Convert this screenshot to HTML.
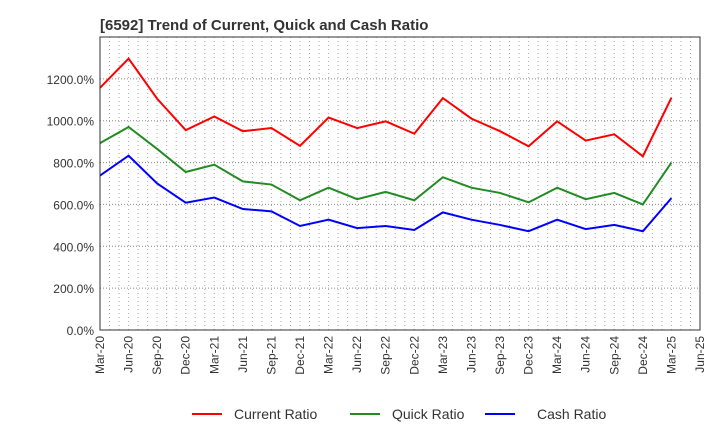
<!DOCTYPE html>
<html><head><meta charset="utf-8"><style>
body{margin:0;background:#fff;font-family:"Liberation Sans",sans-serif;}
</style></head><body>
<svg width="720" height="440" xmlns="http://www.w3.org/2000/svg" font-family="Liberation Sans, sans-serif">
<text x="100" y="30" font-size="15" font-weight="bold" fill="#333">[6592]  Trend of Current, Quick and Cash Ratio</text>
<g id="grid"></g>
<g id="series"></g>
<g id="axes"></g>
<g>
<line x1="192" y1="414" x2="222" y2="414" stroke="#ff0000" stroke-width="2"/>
<text x="234" y="419" font-size="14" fill="#333">Current Ratio</text>
<line x1="350" y1="414" x2="380" y2="414" stroke="#228b22" stroke-width="2"/>
<text x="392" y="419" font-size="14" fill="#333">Quick Ratio</text>
<line x1="485" y1="414" x2="515" y2="414" stroke="#0000ff" stroke-width="2"/>
<text x="537" y="419" font-size="14" fill="#333">Cash Ratio</text>
</g>
</svg>
<script>
const categories=["Mar-20","Jun-20","Sep-20","Dec-20","Mar-21","Jun-21","Sep-21","Dec-21","Mar-22","Jun-22","Sep-22","Dec-22","Mar-23","Jun-23","Sep-23","Dec-23","Mar-24","Jun-24","Sep-24","Dec-24","Mar-25"];
const xTickLabels=["Mar-20","Jun-20","Sep-20","Dec-20","Mar-21","Jun-21","Sep-21","Dec-21","Mar-22","Jun-22","Sep-22","Dec-22","Mar-23","Jun-23","Sep-23","Dec-23","Mar-24","Jun-24","Sep-24","Dec-24","Mar-25","Jun-25"];
const currentRatio=[1157,1297,1105,955,1020,950,965,880,1015,965,997,938,1108,1010,950,878,997,905,935,830,1110];
const quickRatio=[893,970,865,755,790,710,695,620,680,625,660,620,730,680,655,610,680,625,655,600,800];
const cashRatio=[738,833,700,608,633,578,567,497,527,487,497,478,562,527,502,472,527,482,502,472,630];
const yTicks=[0,200,400,600,800,1000,1200];
const NS="http://www.w3.org/2000/svg";
const L=100,R=700,T=37,B=330,yMax=1400;
const x=i=>L+i*(R-L)/(xTickLabels.length-1);
const y=v=>B-v/yMax*(B-T);
function mk(t,a,p){const e=document.createElementNS(NS,t);for(const k in a)e.setAttribute(k,a[k]);p.appendChild(e);return e;}
const grid=document.getElementById('grid'),axes=document.getElementById('axes'),series=document.getElementById('series');
for(let m=1;m<63;m++){const gx=L+m*(R-L)/63;const l=mk('line',{x1:gx,x2:gx,y1:T,y2:B,stroke:'#aaa','stroke-dasharray':'1,3'},grid);

}
yTicks.forEach(v=>{if(v>0){const l=mk('line',{x1:L,x2:R,y1:y(v),y2:y(v),stroke:'#888','stroke-dasharray':'1,2'},grid);

}});
yTicks.forEach(v=>{const t=mk('text',{x:L-6,y:y(v)+5,'font-size':12,'text-anchor':'end',fill:'#333'},axes);t.textContent=v.toFixed(1)+'%';

});
xTickLabels.forEach((c,i)=>{const t=mk('text',{transform:`translate(${x(i)+4},${B+6}) rotate(-90)`,'font-size':12,'text-anchor':'end',fill:'#333'},axes);t.textContent=c;

});
const frame=mk('rect',{x:L,y:T,width:R-L,height:B-T,fill:'none',stroke:'#333'},axes);


[[currentRatio,'#ff0000','current-ratio-line'],[quickRatio,'#228b22','quick-ratio-line'],[cashRatio,'#0000ff','cash-ratio-line']].forEach(([d,c,n])=>{
const p=mk('polyline',{points:d.map((v,i)=>x(i)+','+y(v)).join(' '),fill:'none',stroke:c,'stroke-width':2},series);

});
</script>
</body></html>
